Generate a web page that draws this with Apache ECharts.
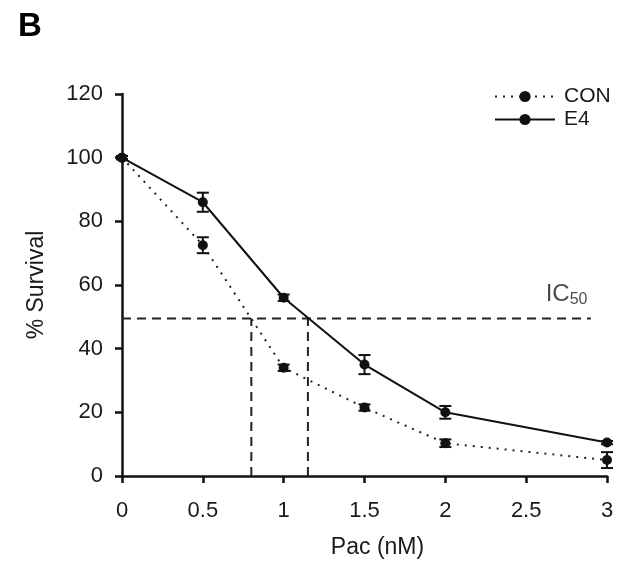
<!DOCTYPE html>
<html><head><meta charset="utf-8">
<script src="https://cdn.jsdelivr.net/npm/echarts@6/dist/echarts.min.js"></script>
<style>html,body{margin:0;padding:0;background:#fff}#c{width:634px;height:568px}</style>
</head><body><div id="c"></div>
<script>
const doses = [0, 0.5, 1, 1.5, 2, 3];
const conMean = [100, 72.5, 34, 21.5, 10.3, 5];
const conErr = [0.5, 2.5, 1, 1, 1.2, 2.5];
const e4Mean = [100, 86, 56, 35, 20, 10.5];
const e4Err = [0.5, 3, 1, 3, 2, 0.5];
const ic50Level = 49.5;
const ic50Con = 0.8;
const ic50E4 = 1.15;
const ic50LineEnd = 2.9;
const ic50LabelPos = [2.75, 57];

const FONT = 'Liberation Sans, Arial, sans-serif';
const chart = echarts.init(document.getElementById('c'), null, {renderer: 'canvas'});

function pts(xs, ys) { return xs.map((x, i) => [x, ys[i]]); }
function errData(xs, m, e) { return xs.map((x, i) => [x, m[i] - e[i], m[i] + e[i]]); }

function errRender(params, api) {
  const x = api.value(0);
  const lo = api.coord([x, api.value(1)]);
  const hi = api.coord([x, api.value(2)]);
  const hw = 6;
  const st = {stroke: '#111', lineWidth: 2};
  return {type: 'group', children: [
    {type: 'line', shape: {x1: lo[0], y1: lo[1], x2: hi[0], y2: hi[1]}, style: st},
    {type: 'line', shape: {x1: lo[0] - hw, y1: lo[1], x2: lo[0] + hw, y2: lo[1]}, style: st},
    {type: 'line', shape: {x1: hi[0] - hw, y1: hi[1], x2: hi[0] + hw, y2: hi[1]}, style: st}
  ]};
}

const dashStyle = {color: '#222', width: 2, type: [9, 6]};

chart.setOption({
  animation: false,
  backgroundColor: '#fff',
  title: {text: 'B', left: 13, top: 5, textStyle: {fontFamily: FONT, fontSize: 33, fontWeight: 'bold', color: '#000'}},
  grid: {left: 122, right: 27, top: 94, bottom: 92},
  legend: {
    left: 494, top: 86, padding: 0, orient: 'vertical', itemWidth: 60, itemHeight: 14, itemGap: 2,
    data: ['CON', 'E4'],
    textStyle: {fontFamily: FONT, fontSize: 21, color: '#1a1a1a', padding: [0, 0, 0, 4]}
  },
  xAxis: {
    type: 'value', min: 0, max: 3, interval: 0.5,
    name: 'Pac (nM)', nameLocation: 'middle', nameGap: 60,
    nameTextStyle: {fontFamily: FONT, fontSize: 23, color: '#1a1a1a', padding: [0, 0, 0, 26]},
    axisLine: {lineStyle: {color: '#111', width: 2.5}},
    axisTick: {show: true, length: 7, lineStyle: {color: '#111', width: 2.5}},
    axisLabel: {fontFamily: FONT, fontSize: 22, color: '#1a1a1a', margin: 24},
    splitLine: {show: false}
  },
  yAxis: {
    type: 'value', min: 0, max: 120, interval: 20,
    name: '% Survival', nameLocation: 'middle', nameGap: 74, nameRotate: 90,
    nameTextStyle: {fontFamily: FONT, fontSize: 23, color: '#1a1a1a'},
    axisLine: {show: true, lineStyle: {color: '#111', width: 2.5}},
    axisTick: {show: true, length: 7, lineStyle: {color: '#111', width: 2.5}},
    axisLabel: {fontFamily: FONT, fontSize: 22, color: '#1a1a1a', margin: 19},
    splitLine: {show: false}
  },
  series: [
    {name: 'IC50h', type: 'line', data: [[0, ic50Level], [ic50LineEnd, ic50Level]], symbol: 'none', lineStyle: dashStyle, silent: true, z: 1},
    {name: 'IC50c', type: 'line', data: [[ic50Con, 0], [ic50Con, ic50Level]], symbol: 'none', lineStyle: dashStyle, silent: true, z: 1},
    {name: 'IC50e', type: 'line', data: [[ic50E4, 0], [ic50E4, ic50Level]], symbol: 'none', lineStyle: dashStyle, silent: true, z: 1},
    {name: 'IC50label', type: 'scatter', data: [ic50LabelPos], symbolSize: 0, silent: true,
      label: {show: true, position: 'inside', formatter: '{a|IC}{b|50}',
        rich: {a: {fontFamily: FONT, fontSize: 24, color: '#1a1a1a'}, b: {fontFamily: FONT, fontSize: 16, color: '#1a1a1a', padding: [10, 0, 0, 0]}}}},
    {name: 'CON', type: 'line', data: pts(doses, conMean), symbol: 'circle', symbolSize: 10,
      itemStyle: {color: '#111'}, lineStyle: {color: '#222', width: 2, type: [2, 6]}, z: 3},
    {name: 'E4', type: 'line', data: pts(doses, e4Mean), symbol: 'circle', symbolSize: 10,
      itemStyle: {color: '#111'}, lineStyle: {color: '#111', width: 2, type: 'solid'}, z: 3},
    {name: 'CONerr', type: 'custom', data: errData(doses, conMean, conErr), renderItem: errRender, z: 4, silent: true},
    {name: 'E4err', type: 'custom', data: errData(doses, e4Mean, e4Err), renderItem: errRender, z: 4, silent: true}
  ]
});
</script></body></html>
